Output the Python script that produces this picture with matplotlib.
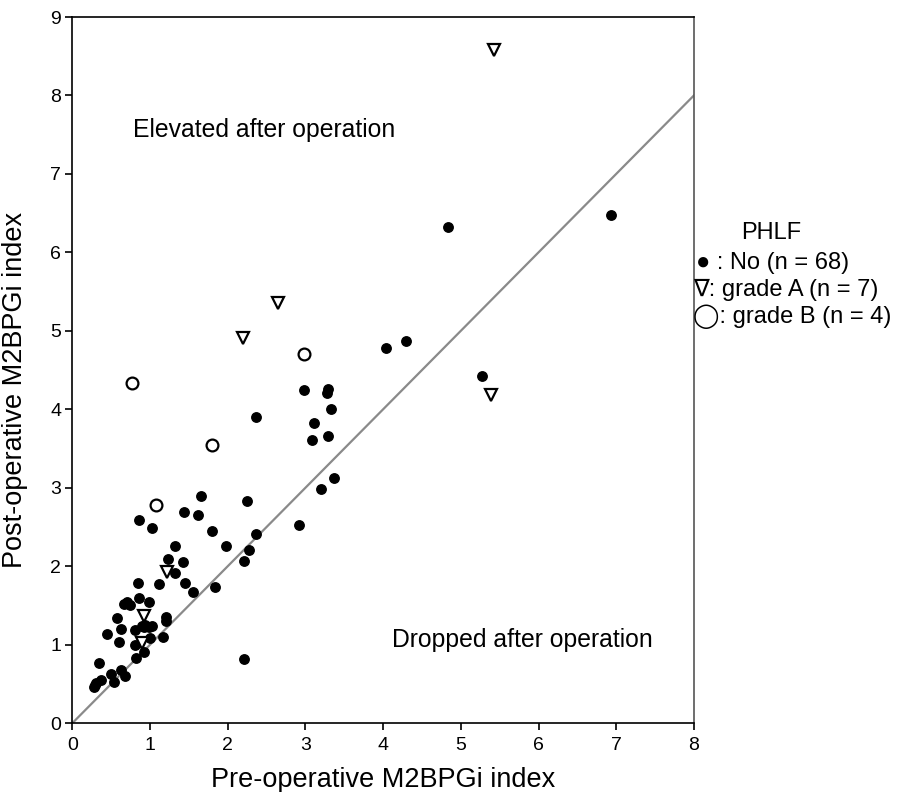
import matplotlib
matplotlib.use('Agg')
from matplotlib import pyplot as plt

# PHLF: No (n = 68)
no_x = [1.65, 2.25, 0.86, 1.03, 1.44, 1.62, 1.79, 1.98, 2.36, 2.27, 2.21, 1.32,
        1.23, 1.42, 1.32, 1.45, 1.55, 1.83, 1.12, 0.85, 0.86, 0.70, 0.74, 0.98,
        1.20, 1.20, 0.57, 0.63, 0.80, 0.90, 0.94, 0.98, 1.02, 1.00, 1.16, 0.45,
        0.60, 0.80, 0.92, 0.82, 0.34, 2.21, 0.50, 0.63, 0.68, 0.53, 0.37, 0.30,
        0.28, 4.03, 2.98, 3.29, 3.28, 3.33, 2.36, 3.11, 3.09, 3.29, 3.37, 3.20,
        2.92, 4.83, 6.93, 4.30, 5.27, 0.66, 0.92, 0.29]
no_y = [2.90, 2.83, 2.59, 2.48, 2.69, 2.65, 2.45, 2.26, 2.41, 2.20, 2.06, 2.26,
        2.09, 2.05, 1.91, 1.79, 1.67, 1.73, 1.77, 1.78, 1.60, 1.54, 1.50, 1.54,
        1.35, 1.30, 1.34, 1.20, 1.18, 1.24, 1.25, 1.23, 1.24, 1.09, 1.10, 1.14,
        1.03, 0.99, 0.91, 0.83, 0.77, 0.81, 0.62, 0.68, 0.60, 0.52, 0.55, 0.51,
        0.46, 4.78, 4.25, 4.26, 4.21, 4.00, 3.90, 3.83, 3.61, 3.66, 3.12, 2.98,
        2.53, 6.32, 6.47, 4.87, 4.42, 1.52, 1.22, 0.48]

# PHLF grade A (n = 7)
a_x = [5.43, 2.65, 2.20, 5.39, 1.22, 0.92, 0.89]
a_y = [8.58, 5.36, 4.91, 4.18, 1.93, 1.36, 1.02]

# PHLF grade B (n = 4)
b_x = [0.76, 1.79, 2.98, 1.08]
b_y = [4.33, 3.54, 4.70, 2.78]

plt.rcParams['font.family'] = ['Liberation Sans', 'DejaVu Sans']

fig = plt.figure(figsize=(8.98, 7.92), dpi=100)
ax = fig.add_axes([0.0807, 0.0871, 0.692, 0.8914])

# identity line
ax.plot([0, 8], [0, 8], color='#8a8a8a', lw=1.6, zorder=1)

ax.plot(no_x, no_y, 'o', color='black', ms=6.8, mec='black', zorder=3)
ax.plot(a_x, a_y, 'v', color='black', ms=9, mfc='white', mew=1.6, zorder=3)
ax.plot(b_x, b_y, 'o', color='black', ms=8.5, mfc='white', mew=1.6, zorder=3)

ax.set_xlim(0, 8)
ax.set_ylim(0, 9)
ax.set_xticks(range(0, 9))
ax.set_yticks(range(0, 10))
ax.tick_params(direction='out', length=5, width=1.2, labelsize=14)
ax.tick_params(axis='x', pad=5)
ax.tick_params(axis='y', pad=3)
for s in ax.spines.values():
    s.set_linewidth(1.2)
ax.spines['right'].set_color('#555555')

ax.set_xlabel('Pre-operative M2BPGi index', fontsize=19.5)
ax.set_ylabel('Post-operative M2BPGi index', fontsize=19.5)
ax.xaxis.set_label_coords(0.5, -0.063)
ax.yaxis.set_label_coords(-0.072, 0.472)

ax.text(2.47, 7.56, 'Elevated after operation', fontsize=17.8,
        ha='center', va='center')
ax.text(4.12, 1.06, 'Dropped after operation', fontsize=17.8,
        ha='left', va='center')

# legend as plain text
fig.text(0.8255, 1 - 233 / 792, 'PHLF', fontsize=17, ha='left', va='center')
fig.text(0.7750, 1 - 263 / 792, '\u25cf : No (n = 68)', fontsize=17,
         ha='left', va='center')
fig.text(0.7720, 1 - 290 / 792, '\u2207: grade A (n = 7)', fontsize=17,
         ha='left', va='center')
fig.text(0.7720, 1 - 317 / 792, '\u25ef: grade B (n = 4)', fontsize=17,
         ha='left', va='center')

fig.savefig('out.png', dpi=100)
